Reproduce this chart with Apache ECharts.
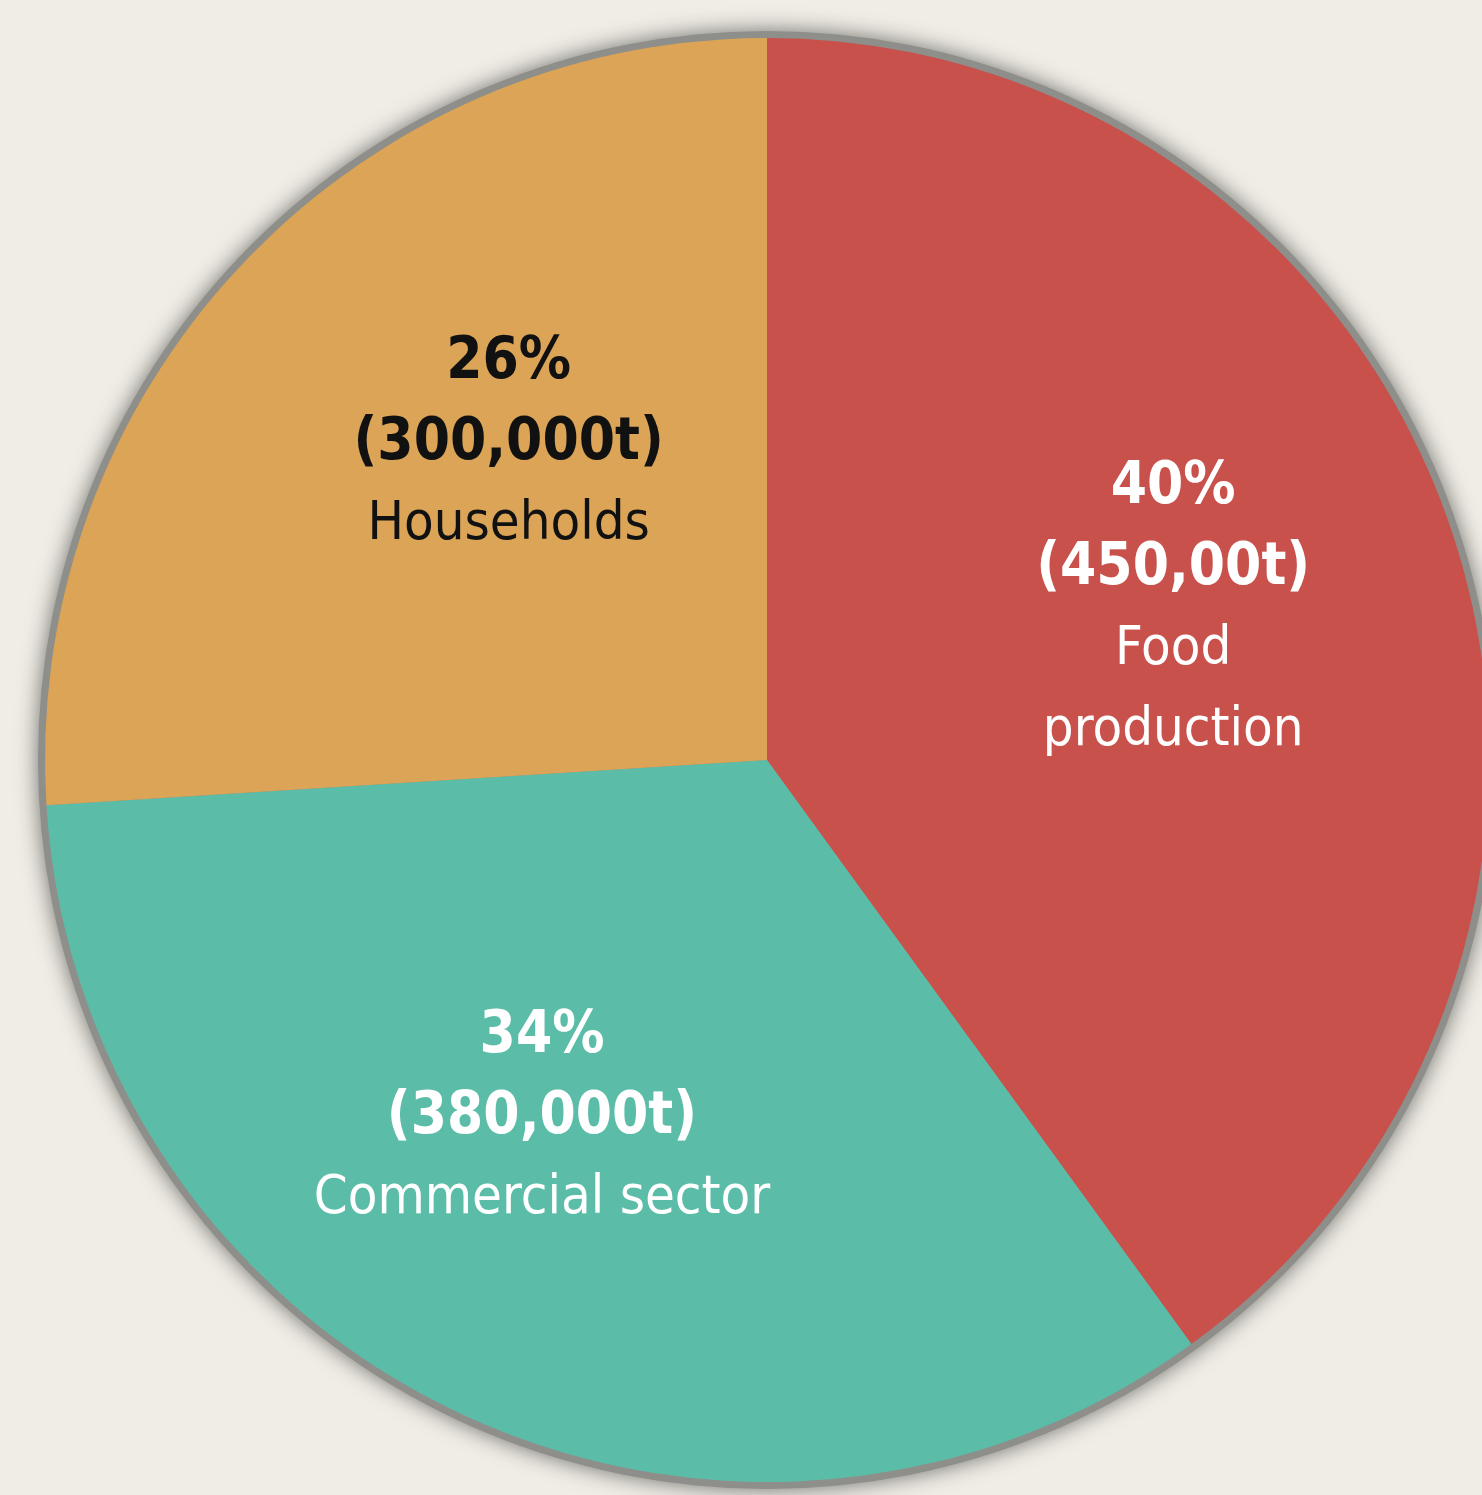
<!DOCTYPE html>
<html>
<head>
<meta charset="utf-8">
<script src="https://cdn.jsdelivr.net/npm/echarts@6/dist/echarts.min.js"></script>
<style>
html,body{margin:0;padding:0;background:#f0ede6;}
#chart{width:1482px;height:1495px;}
</style>
</head>
<body>
<div id="chart"></div>
<script>
const categories = ['Food\nproduction', 'Commercial sector', 'Households'];
const percents = [40, 34, 26];
const tonnageLabels = ['(450,00t)', '(380,000t)', '(300,000t)'];
const colors = ['#c8514b', '#5bbda8', '#dba457'];
const textColors = ['#ffffff', '#ffffff', '#111111'];
const labelOffsets = [[60, -38], [-70, 29], [7, -67]];

const FONT = '"DejaVu Sans Condensed", "DejaVu Sans", sans-serif';
const CENTER = [767, 760];
const R = 722;

const data = categories.map((c, i) => ({
  name: c,
  value: percents[i],
  itemStyle: { color: colors[i] },
  label: {
    offset: labelOffsets[i],
    formatter: () => '{b|' + percents[i] + '%}\n{b|' + tonnageLabels[i] + '}\n' +
      c.split('\n').map(s => '{n|' + s + '}').join('\n'),
    rich: {
      b: { fontFamily: FONT, fontWeight: 'bold', fontSize: 58, lineHeight: 81, color: textColors[i], align: 'center' },
      n: { fontFamily: FONT, fontWeight: 'normal', fontSize: 54, lineHeight: 81, color: textColors[i], align: 'center' }
    }
  }
}));

const chart = echarts.init(document.getElementById('chart'), null, { renderer: 'canvas' });
chart.setOption({
  backgroundColor: '#f0ede6',
  animation: false,
  series: [
    {
      type: 'pie',
      silent: true,
      center: CENTER,
      radius: [0, R + 7],
      z: 1,
      label: { show: false },
      labelLine: { show: false },
      itemStyle: { color: '#8e8e8a', shadowBlur: 22, shadowColor: 'rgba(110,110,105,1)' },
      data: [{ value: 1, name: 'ring' }]
    },
    {
      type: 'pie',
      center: CENTER,
      radius: [0, R],
      startAngle: 90,
      clockwise: true,
      z: 2,
      itemStyle: { borderWidth: 0 },
      label: { show: true, position: 'inner' },
      labelLine: { show: false },
      emphasis: { disabled: true },
      data: data
    }
  ]
});
</script>
</body>
</html>
